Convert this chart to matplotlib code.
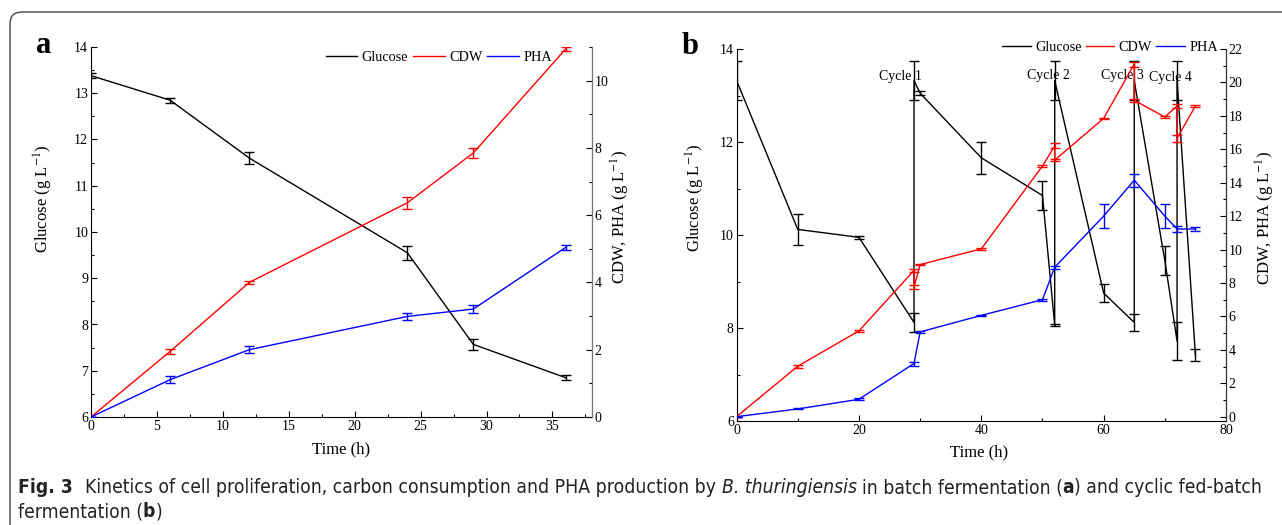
import numpy as np
import matplotlib
matplotlib.use("Agg")
import matplotlib.pyplot as plt
from matplotlib.patches import FancyBboxPatch
from matplotlib.ticker import MultipleLocator

plt.rcParams['font.family'] = ['Liberation Serif', 'DejaVu Serif']
plt.rcParams['mathtext.fontset'] = 'stix'

W, H = 1282, 525

# ---- panel a: batch fermentation ----
t_a = [0, 6, 12, 24, 29, 36]
glc_a = [13.38, 12.85, 11.6, 9.55, 7.57, 6.85]
glc_a_err = [0.05, 0.05, 0.13, 0.15, 0.12, 0.05]
cdw_a = [0, 1.95, 4.0, 6.37, 7.85, 10.94]
cdw_a_err = [0, 0.08, 0.05, 0.18, 0.15, 0.05]
pha_a = [0, 1.11, 2.0, 2.99, 3.21, 5.04]
pha_a_err = [0, 0.1, 0.1, 0.1, 0.12, 0.07]

# ---- panel b: cyclic fed-batch ----
t_glc_b = [0, 10, 20, 29, 29, 30, 40, 50, 52, 52, 60, 65, 65, 70, 72, 72, 75]
glc_b = [13.32, 10.12, 9.95, 8.12, 13.32, 13.05, 11.66, 10.85, 8.06, 13.32,
         8.75, 8.12, 13.32, 9.45, 7.72, 13.32, 7.42]
glc_b_err = [0.42, 0.33, 0.03, 0.2, 0.42, 0.04, 0.35, 0.31, 0.02, 0.42,
             0.2, 0.18, 0.42, 0.32, 0.4, 0.42, 0.12]
t_cdw_b = [0, 10, 20, 29, 29, 30, 40, 50, 52, 52, 60, 65, 65, 70, 72, 72, 75]
cdw_b = [0, 3.02, 5.13, 8.75, 7.75, 9.1, 10.04, 15.0, 16.2, 15.35, 17.85,
         21.1, 18.93, 17.93, 18.59, 16.66, 18.59]
cdw_b_err = [0, 0.08, 0.08, 0.1, 0.1, 0.05, 0.08, 0.08, 0.15, 0.08, 0.05,
             0.15, 0.1, 0.05, 0.1, 0.2, 0.05]
t_pha_b = [0, 10, 20, 29, 30, 40, 50, 52, 60, 65, 70, 72, 75]
pha_b = [0, 0.46, 1.04, 3.18, 5.07, 6.06, 7.0, 8.94, 12.0, 14.15, 12.0, 11.23, 11.23]
pha_b_err = [0, 0.03, 0.05, 0.12, 0.05, 0.05, 0.05, 0.1, 0.7, 0.4, 0.72, 0.2, 0.1]

cycle_labels = ['Cycle 1', 'Cycle 2', 'Cycle 3', 'Cycle 4']
cycle_x = [26.8, 50.9, 63.0, 70.9]
cycle_y = [13.4, 13.42, 13.42, 13.39]

series_names = ['Glucose', 'CDW', 'PHA']
colors = ['black', 'red', 'blue']

fig = plt.figure(figsize=(W / 100, H / 100), dpi=100)


def px_axes(left, top, right, bottom):
    return fig.add_axes([left / W, 1 - bottom / H, (right - left) / W, (bottom - top) / H])


def draw(ax, x, y, err, color, label):
    ln, = ax.plot(x, y, color=color, lw=1.0, label=label)
    ax.errorbar(x, y, yerr=err, fmt='none', ecolor=color, elinewidth=1.0,
                capsize=3.5, capthick=1.0)
    return ln


def style(ax, ax2, right_color):
    for a in (ax, ax2):
        a.spines['top'].set_visible(False)
        a.tick_params(which='both', direction='in', labelsize=10, width=0.8)
        a.tick_params(which='major', length=4)
        a.tick_params(which='minor', length=2)
    ax.tick_params(axis='x', pad=2)
    ax.tick_params(axis='y', pad=2)
    ax2.tick_params(axis='y', pad=2)
    ax2.spines['right'].set_color(right_color)
    ax2.spines['left'].set_visible(False)
    ax2.spines['bottom'].set_visible(False)


# panel a
ax = px_axes(91, 47, 592, 417)
ax2 = ax.twinx()
h1 = draw(ax, t_a, glc_a, glc_a_err, colors[0], series_names[0])
h2 = draw(ax2, t_a, cdw_a, cdw_a_err, colors[1], series_names[1])
h3 = draw(ax2, t_a, pha_a, pha_a_err, colors[2], series_names[2])
ax.set_xlim(0, 38)
ax.set_ylim(6, 14)
ax2.set_ylim(0, 11)
ax.xaxis.set_major_locator(MultipleLocator(5))
ax.xaxis.set_minor_locator(MultipleLocator(2.5))
ax.yaxis.set_major_locator(MultipleLocator(1))
ax.yaxis.set_minor_locator(MultipleLocator(0.5))
ax2.yaxis.set_major_locator(MultipleLocator(2))
ax2.yaxis.set_minor_locator(MultipleLocator(1))
style(ax, ax2, '#777777')
fig.legend([h1, h2, h3], series_names, loc='center left',
           bbox_to_anchor=(326 / W, 1 - 57 / H), ncol=3, frameon=False,
           fontsize=10.3, handlelength=2.2, handletextpad=0.3,
           columnspacing=0.35, borderpad=0, borderaxespad=0)

# panel b
bx = px_axes(736.6, 49, 1226, 421)
bx2 = bx.twinx()
g1 = draw(bx, t_glc_b, glc_b, glc_b_err, colors[0], series_names[0])
g2 = draw(bx2, t_cdw_b, cdw_b, cdw_b_err, colors[1], series_names[1])
g3 = draw(bx2, t_pha_b, pha_b, pha_b_err, colors[2], series_names[2])
bx.set_xlim(0, 80)
bx.set_ylim(6, 14)
bx2.set_ylim(-0.26, 22)
bx.xaxis.set_major_locator(MultipleLocator(20))
bx.xaxis.set_minor_locator(MultipleLocator(10))
bx.yaxis.set_major_locator(MultipleLocator(2))
bx.yaxis.set_minor_locator(MultipleLocator(1))
bx2.yaxis.set_major_locator(MultipleLocator(2))
bx2.yaxis.set_minor_locator(MultipleLocator(1))
style(bx, bx2, '#333333')
for lab, cx, cy in zip(cycle_labels, cycle_x, cycle_y):
    bx.text(cx, cy, lab, ha='center', va='center', fontsize=10)
fig.legend([g1, g2, g3], series_names, loc='center left',
           bbox_to_anchor=(1002 / W, 1 - 47.7 / H), ncol=3, frameon=False,
           fontsize=10.3, handlelength=2.0, handletextpad=0.3,
           columnspacing=0.3, borderpad=0, borderaxespad=0)

# axis labels
ylab = 'Glucose (g L$^{-1}$)'
rlab = 'CDW, PHA (g L$^{-1}$)'
fig.text(43 / W, 1 - 199 / H, ylab, rotation=90, ha='center', va='center', fontsize=12)
fig.text(620 / W, 1 - 217 / H, rlab, rotation=90, ha='center', va='center', fontsize=12)
fig.text(695 / W, 1 - 198 / H, ylab, rotation=90, ha='center', va='center', fontsize=12)
fig.text(1265 / W, 1 - 218 / H, rlab, rotation=90, ha='center', va='center', fontsize=12)
fig.text(341 / W, 1 - 449 / H, 'Time (h)', ha='center', va='center', fontsize=12)
fig.text(979 / W, 1 - 452 / H, 'Time (h)', ha='center', va='center', fontsize=12)

# panel letters
fig.text(36 / W, 1 - 53 / H, 'a', fontsize=22, fontweight='bold', ha='left', va='baseline')
fig.text(682 / W, 1 - 54 / H, 'b', fontsize=22, fontweight='bold', ha='left', va='baseline')

# frame
frame = FancyBboxPatch((10, -30), 1300, H - 12 + 30, boxstyle='round,pad=0,rounding_size=12',
                       transform=None, fill=False, edgecolor='#444444', lw=1.0)
fig.patches.append(frame)

# caption (condensed sans, sized so the first line spans the box like the original)
cap_font = 'DejaVu Sans'
r = fig.canvas.get_renderer()
line1 = [
    ('Fig. 3', 'bold', 'normal', 2.2),
    ('Kinetics of cell proliferation, carbon consumption and PHA production by', 'normal', 'normal', 0.9),
    ('B. thuringiensis', 'normal', 'italic', 0.9),
    ('in batch fermentation (', 'normal', 'normal', 0),
    ('a', 'bold', 'normal', 0),
    (') and cyclic fed-batch', 'normal', 'normal', 0),
]
line2 = [
    ('fermentation (', 'normal', 'normal', 0),
    ('b', 'bold', 'normal', 0),
    (')', 'normal', 'normal', 0),
]


def caption_line(x, y, pieces, size):
    texts = []
    for s, weight, style_, gap in pieces:
        t = fig.text(x / W, 1 - y / H, s, fontsize=size, family=cap_font,
                     fontstretch='condensed', fontweight=weight, fontstyle=style_,
                     ha='left', va='baseline', color='#222222')
        texts.append(t)
        # gap is in units of a space (~0.3 em)
        x += t.get_window_extent(r).width + gap * 0.3 * size * 100 / 72
    return x, texts


cap_size = 13
end, tx = caption_line(18, 493, line1, cap_size)
for t in tx:
    t.remove()
cap_size = cap_size * (1258 - 18) / (end - 18)
caption_line(18, 493, line1, cap_size)
caption_line(18, 517, line2, cap_size)

fig.savefig('out.png', dpi=100)
